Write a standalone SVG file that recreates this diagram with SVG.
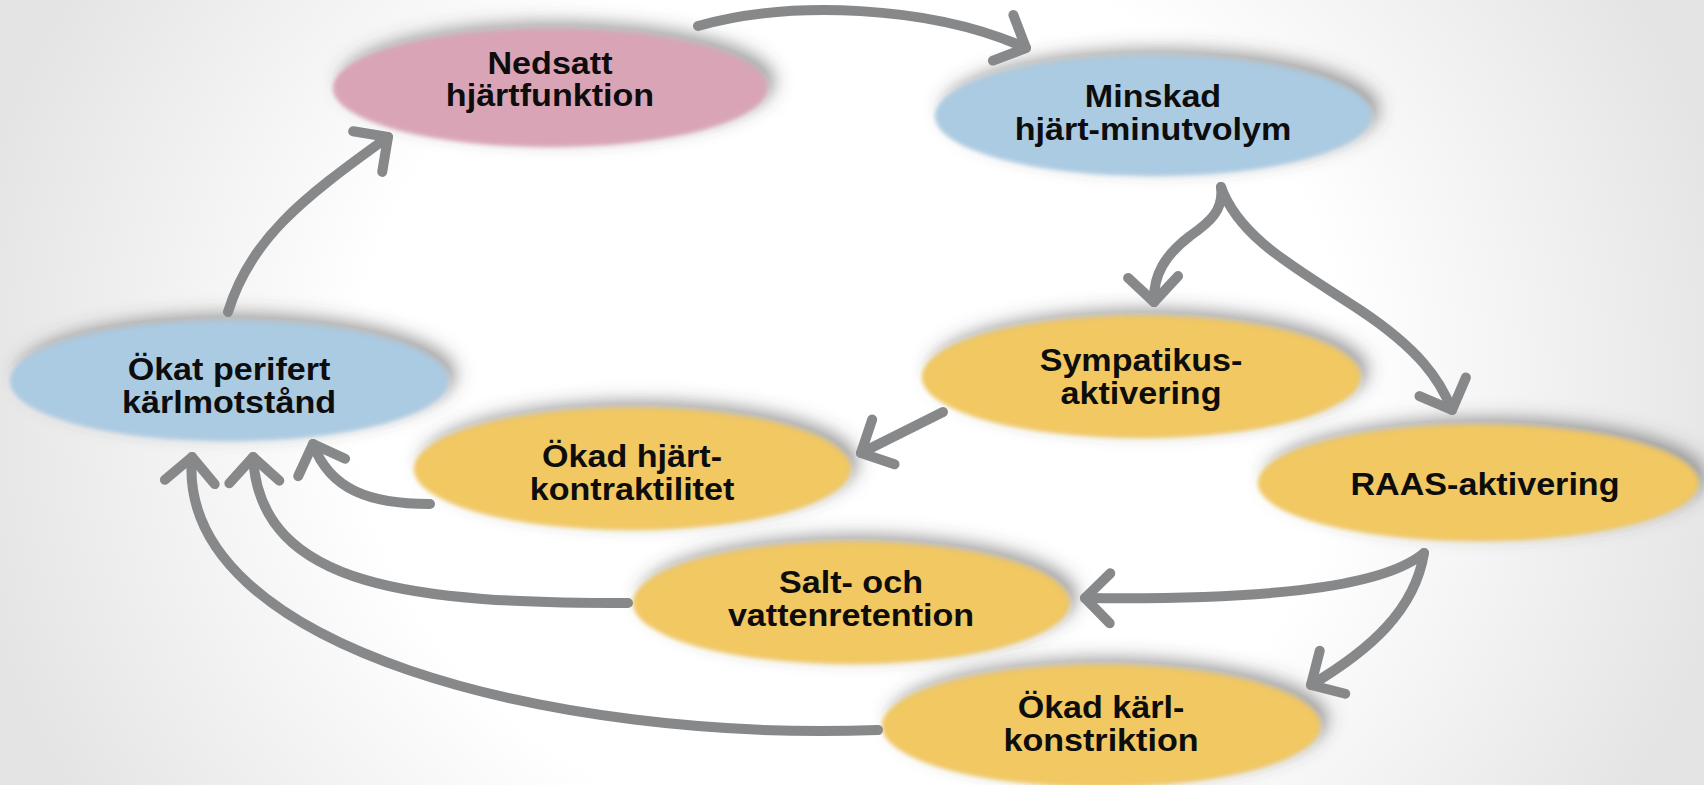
<svg xmlns="http://www.w3.org/2000/svg" width="1704" height="785" viewBox="0 0 1704 785">
<defs>
<radialGradient id="bg" gradientUnits="userSpaceOnUse" cx="852" cy="392" r="900" gradientTransform="translate(852 392) scale(1 0.9) translate(-852 -392)">
<stop offset="0" stop-color="#ffffff"/>
<stop offset="0.55" stop-color="#ffffff"/>
<stop offset="1" stop-color="#e4e4e4"/>
</radialGradient>
<filter id="sh" x="-25%" y="-40%" width="150%" height="180%">
<feGaussianBlur in="SourceAlpha" stdDeviation="9" result="b"/>
<feOffset in="b" dx="8" dy="-7" result="o"/>
<feFlood flood-color="#4a4a4a" flood-opacity="0.55"/>
<feComposite in2="o" operator="in" result="s"/>
<feGaussianBlur in="SourceGraphic" stdDeviation="2.2" result="g"/>
<feMerge><feMergeNode in="s"/><feMergeNode in="g"/></feMerge>
</filter>
<marker id="ah" markerUnits="userSpaceOnUse" viewBox="-40 -40 50 80" refX="0" refY="0" markerWidth="50" markerHeight="80" orient="auto" overflow="visible">
<path d="M -25 -25 L 0 0 L -25 25" fill="none" stroke="#87888a" stroke-width="10" stroke-linecap="round" stroke-linejoin="round"/>
</marker>
<style>
.pink{fill:#d9a5b6}
.blue{fill:#abcbe2}
.yel{fill:#f1c862}
.t{font-family:"Liberation Sans",Arial,sans-serif;font-weight:bold;font-size:31px;fill:#0d0d0d;text-anchor:middle}
.c{fill:none;stroke:#87888a;stroke-width:10;stroke-linecap:round;stroke-linejoin:round}
.a{marker-end:url(#ah)}
</style>
</defs>
<rect width="1704" height="785" fill="url(#bg)"/>

<g id="n-nedsatt">
<ellipse class="pink" cx="550" cy="88" rx="217" ry="59" filter="url(#sh)"/>
<text class="t" transform="translate(550 0) scale(1.1 1)"><tspan x="0" y="74">Nedsatt</tspan><tspan x="0" y="106">hjärtfunktion</tspan></text>
</g>
<g id="n-minskad">
<ellipse class="blue" cx="1153" cy="116" rx="218" ry="60" filter="url(#sh)"/>
<text class="t" transform="translate(1153 0) scale(1.1 1)"><tspan x="0" y="107">Minskad</tspan><tspan x="0" y="140">hjärt-minutvolym</tspan></text>
</g>
<g id="n-okat">
<ellipse class="blue" cx="229" cy="381" rx="219" ry="60" filter="url(#sh)"/>
<text class="t" transform="translate(229 0) scale(1.1 1)"><tspan x="0" y="380">Ökat perifert</tspan><tspan x="0" y="413">kärlmotstånd</tspan></text>
</g>
<g id="n-sympatikus">
<ellipse class="yel" cx="1141" cy="377" rx="219" ry="61" filter="url(#sh)"/>
<text class="t" transform="translate(1141 0) scale(1.1 1)"><tspan x="0" y="371">Sympatikus-</tspan><tspan x="0" y="404">aktivering</tspan></text>
</g>
<g id="n-hjart">
<ellipse class="yel" cx="632" cy="469" rx="218" ry="61" filter="url(#sh)"/>
<text class="t" transform="translate(632 0) scale(1.1 1)"><tspan x="0" y="467">Ökad hjärt-</tspan><tspan x="0" y="500">kontraktilitet</tspan></text>
</g>
<g id="n-raas">
<ellipse class="yel" cx="1478" cy="483" rx="220" ry="58" filter="url(#sh)"/>
<text class="t" transform="translate(1485 0) scale(1.1 1)"><tspan x="0" y="495">RAAS-aktivering</tspan></text>
</g>
<g id="n-salt">
<ellipse class="yel" cx="851" cy="603" rx="218" ry="61" filter="url(#sh)"/>
<text class="t" transform="translate(851 0) scale(1.1 1)"><tspan x="0" y="593">Salt- och</tspan><tspan x="0" y="626">vattenretention</tspan></text>
</g>
<g id="n-karl">
<ellipse class="yel" cx="1101" cy="726" rx="219" ry="61" filter="url(#sh)"/>
<text class="t" transform="translate(1101 0) scale(1.1 1)"><tspan x="0" y="718">Ökad kärl-</tspan><tspan x="0" y="751">konstriktion</tspan></text>
</g>

<g id="connectors">
<path class="c a" d="M 228 312 C 250 240, 300 200, 388 137"/>
<path class="c a" d="M 698 26 C 790 0, 930 5, 1026 48"/>
<path class="c a" d="M 1221 187 C 1224 210, 1210 222, 1190 236 C 1165 255, 1153 275, 1154 302"/>
<path class="c a" d="M 1221 187 C 1240 240, 1300 270, 1360 310 C 1420 350, 1440 380, 1452 410"/>
<path class="c a" d="M 943 412 L 861 453"/>
<path class="c a" d="M 1424 553 C 1380 590, 1250 600, 1085 598"/>
<path class="c a" d="M 1424 553 C 1415 610, 1370 650, 1311 685"/>
<path class="c a" d="M 878 730 C 560 742, 175 650, 192 457"/>
<path class="c a" d="M 628 603 C 420 603, 260 590, 253 457"/>
<path class="c a" d="M 430 504 C 370 504, 330 490, 313 444"/>
</g>
</svg>
